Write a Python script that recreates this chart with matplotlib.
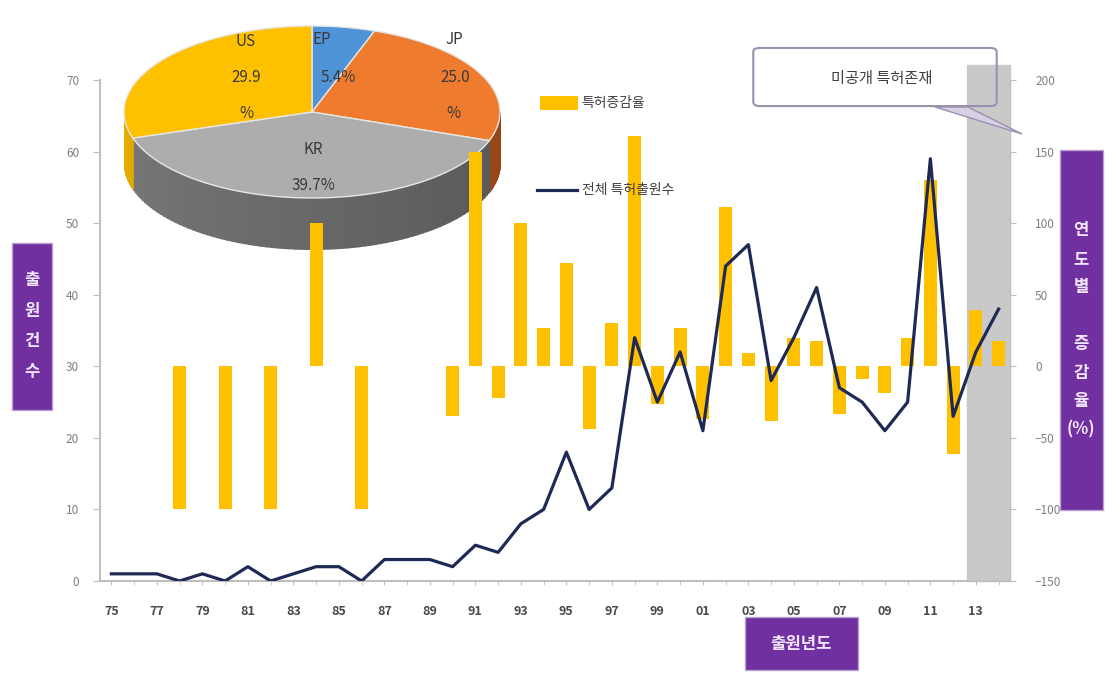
import numpy as np
import matplotlib
matplotlib.use("Agg")
import matplotlib.pyplot as plt
from matplotlib.patches import Rectangle, Polygon, FancyBboxPatch
from matplotlib.lines import Line2D

plt.rcParams['font.family'] = ['Noto Sans CJK KR', 'DejaVu Sans']

# ---- data ----
years = list(range(1975, 2015))
filings = [1, 1, 1, 0, 1, 0, 2, 0, 1, 2,
           2, 0, 3, 3, 3, 2, 5, 4, 8, 10,
           18, 10, 13, 34, 25, 32, 21, 44, 47, 28,
           34, 41, 27, 25, 21, 25, 59, 23, 32, 38]
growth = [None, 0, 0, -100, None, -100, None, -100, None, 100,
          0, -100, None, 0, 0, -35, 150, -22, 100, 27,
          72, -44, 30, 161, -26, 27, -37, 111, 9, -38,
          20, 18, -33, -9, -19, 20, 130, -61, 39, 18]
xtick_years = list(range(1975, 2015, 2))
xtick_labels = ["%02d" % (y % 100) for y in xtick_years]

# pie slices, clockwise from 12 o'clock
pie_labels = ["EP", "JP", "KR", "US"]
pie_shares = [5.4, 25.0, 39.7, 29.9]
pie_colors = ["#4F93D8", "#EF7B2E", "#ADADAD", "#FFC000"]
pie_side = ["#2F6FB0", "#B7561A", "#6A6A6A", "#C99800"]

W, H = 1120, 676


def fx(px):
    return px / W


def fy(py):
    return 1 - py / H


fig = plt.figure(figsize=(W / 100, H / 100), dpi=100)
fig.patch.set_facecolor("white")

# ---- 3D-looking pie, drawn in pixel coordinates behind the chart ----
pax = fig.add_axes([0, 0, 1, 1])
pax.set_xlim(0, W)
pax.set_ylim(H, 0)
pax.axis("off")
pax.set_zorder(0)

cx, cy, ra, rb, depth = 312, 112, 188, 86, 52


def ell(t):
    t = np.radians(t)
    return cx + ra * np.cos(t), cy - rb * np.sin(t)


bounds = [90.0]
for s in pie_shares:
    bounds.append(bounds[-1] - s * 3.6)

# side (front half only, t in -180..0)
for i in range(4):
    lo, hi = bounds[i + 1], bounds[i]
    base = np.array(matplotlib.colors.to_rgb(pie_side[i]))
    for shift in (0, 360):
        a, b = max(lo + shift, -180), min(hi + shift, 0)
        if a >= b:
            continue
        ts = np.linspace(a, b, 80)
        for j in range(len(ts) - 1):
            x0, y0 = ell(ts[j])
            x1, y1 = ell(ts[j + 1])
            k = 1.15 - 0.35 * (ts[j] + 180) / 180
            col = np.clip(base * k, 0, 1)
            pax.add_patch(Polygon([(x0, y0), (x1 + 0.8, y1), (x1 + 0.8, y1 + depth),
                                   (x0, y0 + depth)], closed=True, fc=col, ec="none"))

# top face
for i in range(4):
    ts = np.linspace(bounds[i], bounds[i + 1], 80)
    pts = [(cx, cy)] + [ell(t) for t in ts]
    pax.add_patch(Polygon(pts, closed=True, fc=pie_colors[i], ec="#E6E6E6", lw=1))

lab_kw = dict(ha="center", va="center", fontsize=11, color="#3A3A3A")
pax.text(246, 42, "US", **lab_kw)
pax.text(246, 78, "29.9", **lab_kw)
pax.text(246, 113, "%", **lab_kw)
pax.text(322, 40, "EP", **lab_kw)
pax.text(338, 78, "5.4%", **lab_kw)
pax.text(454, 40, "JP", **lab_kw)
pax.text(455, 78, "25.0", **lab_kw)
pax.text(453, 113, "%", **lab_kw)
pax.text(313, 150, "KR", **lab_kw)
pax.text(313, 186, "39.7%", **lab_kw)

# ---- main chart: bars on the right scale ----
ax = fig.add_axes([fx(100), fy(581), fx(1010) - fx(100), fy(80) - fy(581)])
ax.set_zorder(1)
ax.patch.set_visible(False)

gx = [y for y, g in zip(years, growth) if g is not None]
gv = [g for g in growth if g is not None]
ax.bar(gx, gv, width=0.58, color="#FFC000", zorder=2)
shade = ax.axvspan(2012.6, 2014.5, ymin=0, ymax=1.03, color="#C9C9C9", zorder=0)
shade.set_clip_on(False)

ax.set_xlim(1974.5, 2014.5)
ax.set_ylim(-150, 200)
ax.set_yticks(range(-150, 201, 50))
ax.set_xticks(xtick_years)
ax.set_xticklabels(xtick_labels)
ax.set_xticks(years, minor=True)
ax.tick_params(axis="x", which="both", labelsize=9, labelcolor="#4A4A4A",
               color="#BFBFBF", length=3, pad=14)
for lab in ax.get_xticklabels():
    lab.set_fontweight("bold")

# line on the left scale
ax2 = ax.twinx()
ax2.set_zorder(2)
ax2.plot(years, filings, color="#1E2A55", lw=2.3)
ax2.set_ylim(0, 70)
ax2.set_yticks(range(0, 71, 10))

ax.yaxis.tick_right()
ax.yaxis.set_label_position("right")
ax2.yaxis.tick_left()
ax2.yaxis.set_label_position("left")
ax.tick_params(axis="y", labelsize=8.5, labelcolor="#7F7F7F", color="#BFBFBF",
               length=4, pad=14, left=False, labelleft=False, right=True, labelright=True)
ax2.tick_params(axis="y", labelsize=8.5, labelcolor="#7F7F7F", color="#BFBFBF",
                length=5, pad=10, right=False, labelright=False, left=True, labelleft=True)

for sp in ("top", "left"):
    ax.spines[sp].set_visible(False)
ax.spines["right"].set_color("#BFBFBF")
ax.spines["bottom"].set_color("#BFBFBF")
ax.spines["bottom"].set_linewidth(1.5)
for sp in ("top", "right", "bottom"):
    ax2.spines[sp].set_visible(False)
ax2.spines["left"].set_color("#BFBFBF")
ax2.spines["left"].set_linewidth(1.5)

# ---- legend ----
fig.patches.append(Rectangle((fx(540), fy(110)), fx(578) - fx(540), fy(96) - fy(110),
                             transform=fig.transFigure, fc="#FFC000", ec="none"))
fig.text(fx(581), fy(103), "특허증감율", fontsize=10, color="#404040", va="center")
fig.lines.append(Line2D([fx(537), fx(577)], [fy(190), fy(190)], transform=fig.transFigure,
                        color="#1E2A55", lw=2.3))
fig.text(fx(582), fy(190), "전체 특허출원수", fontsize=10, color="#404040", va="center")

# ---- callout ----
fig.patches.append(FancyBboxPatch((fx(760), fy(102)), fx(990) - fx(760), fy(52) - fy(102),
                                  boxstyle="round,pad=0.006", transform=fig.transFigure,
                                  fc="none", ec="#9A90B0", lw=1.5))
fig.patches.append(Polygon([(fx(935), fy(107)), (fx(968), fy(107)), (fx(1022), fy(134))],
                           closed=True, transform=fig.transFigure, fc="#D8D0E4",
                           ec="#9A90B0", lw=1))
fig.text(fx(882), fy(79), "미공개 특허존재", fontsize=11, color="#404040",
         ha="center", va="center")

# ---- purple axis title boxes ----
purple = "#7030A0"
fig.patches.append(Rectangle((fx(12), fy(410)), fx(52) - fx(12), fy(243) - fy(410),
                             transform=fig.transFigure, fc=purple, ec="#B9A0D0", lw=1))
fig.text(fx(32), fy(326), "출\n원\n건\n수", fontsize=12, color="#F2E6FF", fontweight="bold",
         ha="center", va="center", linespacing=1.9)

fig.patches.append(Rectangle((fx(1060), fy(510)), fx(1103) - fx(1060), fy(150) - fy(510),
                             transform=fig.transFigure, fc=purple, ec="#B9A0D0", lw=1))
fig.text(fx(1081), fy(330), "연\n도\n별\n\n증\n감\n율\n(%)", fontsize=12, color="#F2E6FF",
         fontweight="bold", ha="center", va="center", linespacing=1.75)

fig.patches.append(Rectangle((fx(745), fy(670)), fx(858) - fx(745), fy(617) - fy(670),
                             transform=fig.transFigure, fc=purple, ec="#B9A0D0", lw=1))
fig.text(fx(801), fy(644), "출원년도", fontsize=12, color="#F2E6FF", fontweight="bold",
         ha="center", va="center")

fig.savefig("out.png", dpi=100)
